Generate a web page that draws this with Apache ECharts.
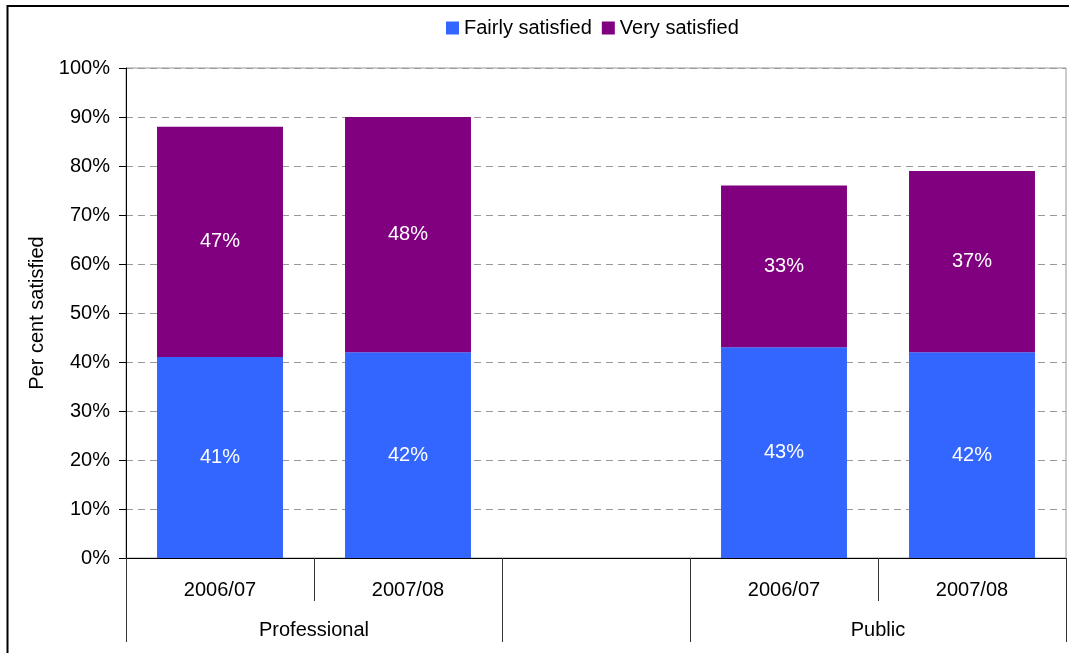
<!DOCTYPE html>
<html>
<head>
<meta charset="utf-8">
<style>
  html, body { margin: 0; padding: 0; background: #fff; }
  #chart { width: 1069px; height: 653px; }
</style>
<script src="https://cdn.jsdelivr.net/npm/echarts@6/dist/echarts.min.js"></script>
</head>
<body>
<div id="chart"></div>
<script>
// Satisfaction by year, grouped by respondent type (blank slot between groups)
const years = ['2006/07', '2007/08', '', '2006/07', '2007/08'];
const groupNames = ['Professional', 'Public'];
const groupSizes = [2, 2];
const fairlySatisfied = [41, 42, null, 43, 42];
const verySatisfied = [47, 48, null, 33, 37];
const yTicks = [0, 10, 20, 30, 40, 50, 60, 70, 80, 90, 100];

// group boundaries and centres along the category axis (one empty slot between groups)
const groupEdges = [];
const groupCentres = {};
let pos = 0;
groupNames.forEach((name, i) => {
  groupEdges.push(pos);
  groupCentres[pos + groupSizes[i] / 2] = name;
  pos += groupSizes[i];
  groupEdges.push(pos);
  pos += 1;
});
const slotCount = years.length;

const FONT = 'Liberation Sans, Arial, sans-serif';
const chart = echarts.init(document.getElementById('chart'), null, { renderer: 'canvas' });

const labelStyle = {
  show: true,
  position: 'inside',
  color: '#fff',
  fontSize: 20,
  fontFamily: FONT,
  formatter: p => (p.value == null ? '' : p.value + '%')
};

chart.setOption({
  animation: false,
  textStyle: { fontFamily: FONT },
  legend: {
    left: 441,
    top: 13,
    itemWidth: 13,
    itemHeight: 13,
    itemGap: 10,
    icon: 'rect',
    textStyle: { fontSize: 20, color: '#000', fontFamily: FONT },
    data: ['Fairly satisfied', 'Very satisfied']
  },
  grid: {
    left: 126, right: 3, top: 68, bottom: 95,
    show: true, borderColor: '#999', borderWidth: 1
  },
  xAxis: [
    {
      type: 'category',
      data: years,
      boundaryGap: true,
      axisLine: { lineStyle: { color: '#000', width: 1 } },
      axisTick: { show: true, interval: 0, length: 43, lineStyle: { color: '#333' } },
      axisLabel: { interval: 0, fontSize: 20, color: '#000', margin: 22, fontFamily: FONT },
      splitLine: { show: false }
    },
    {
      type: 'value',
      min: 0,
      max: slotCount,
      position: 'bottom',
      axisLine: { show: false },
      axisTick: {
        show: true,
        customValues: groupEdges,
        length: 84,
        lineStyle: { color: '#333' }
      },
      axisLabel: {
        show: true,
        customValues: Object.keys(groupCentres).map(Number),
        formatter: v => groupCentres[v] || '',
        fontSize: 20,
        color: '#000',
        margin: 62,
        fontFamily: FONT
      },
      splitLine: { show: false }
    }
  ],
  yAxis: {
    type: 'value',
    min: 0,
    max: 100,
    interval: 10,
    name: 'Per cent satisfied',
    nameLocation: 'middle',
    nameRotate: 90,
    nameGap: 78,
    nameTextStyle: { fontSize: 20, color: '#000', fontFamily: FONT },
    axisLine: { show: true, lineStyle: { color: '#000', width: 1 } },
    axisTick: { show: true, length: 7, lineStyle: { color: '#000' } },
    axisLabel: {
      fontSize: 20, color: '#000', margin: 16, fontFamily: FONT,
      customValues: yTicks,
      formatter: '{value}%'
    },
    splitLine: {
      show: true,
      lineStyle: { color: '#999', type: [7, 5], width: 1 }
    }
  },
  series: [
    {
      name: 'Fairly satisfied',
      type: 'bar',
      stack: 'total',
      barWidth: '67%',
      itemStyle: { color: '#3366FF' },
      label: labelStyle,
      data: fairlySatisfied
    },
    {
      name: 'Very satisfied',
      type: 'bar',
      stack: 'total',
      barWidth: '67%',
      itemStyle: { color: '#800080' },
      label: labelStyle,
      data: verySatisfied
    }
  ],
  graphic: [
    {
      type: 'rect',
      silent: true,
      z: 100,
      shape: { x: 7.5, y: 6, width: 1200, height: 800 },
      style: { fill: 'none', stroke: '#000', lineWidth: 2 }
    }
  ]
});
</script>
</body>
</html>
